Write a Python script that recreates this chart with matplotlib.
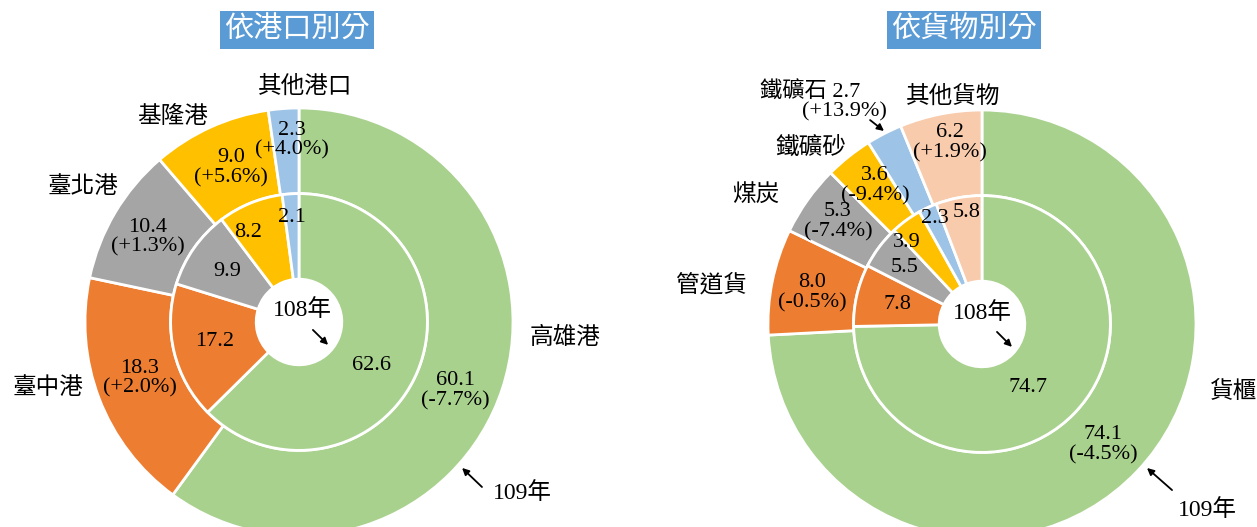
import matplotlib.pyplot as plt

plt.rcParams['font.family'] = ['Liberation Serif', 'Noto Sans CJK TC']

W, H = 1257, 527

colors_port = ['#A9D18E', '#ED7D31', '#A5A5A5', '#FFC000', '#9DC3E6']
colors_cargo = ['#A9D18E', '#ED7D31', '#A5A5A5', '#FFC000', '#9DC3E6', '#F8CBAD']

# 依港口別分
ports = ['高雄港', '臺中港', '臺北港', '基隆港', '其他港口']
port_109 = [60.1, 18.3, 10.4, 9.0, 2.3]
port_108 = [62.6, 17.2, 9.9, 8.2, 2.1]
port_chg = ['-7.7%', '+2.0%', '+1.3%', '+5.6%', '+4.0%']

# 依貨物別分
cargos = ['貨櫃', '管道貨', '煤炭', '鐵礦砂', '鐵礦石', '其他貨物']
cargo_109 = [74.1, 8.0, 5.3, 3.6, 2.7, 6.2]
cargo_108 = [74.7, 7.8, 5.5, 3.9, 2.3, 5.8]
cargo_chg = ['-4.5%', '-0.5%', '-7.4%', '-9.4%', '+13.9%', '+1.9%']

# label positions (in units of outer radius, relative to center)
port_name_pos = [(1.243, -0.075), (-1.173, -0.308), (-1.009, 0.631), (-0.589, 0.958), (0.028, 1.098)]
port_out_pos = [(0.729, -0.322), (-0.743, -0.262), (-0.706, 0.397), (-0.318, 0.720), (-0.033, 0.850)]
port_in_pos = [(0.341, -0.201), (-0.393, -0.093), (-0.336, 0.234), (-0.238, 0.416), (-0.033, 0.486)]

cargo_name_pos = [None, (-1.262, 0.182), (-1.056, 0.603), (-0.799, 0.822), None, (-0.136, 1.061)]
cargo_out_pos = [(0.565, -0.565), (-0.794, 0.145), (-0.673, 0.477), (-0.50, 0.645), None, (-0.150, 0.846)]
cargo_in_pos = [(0.215, -0.299), (-0.393, 0.089), (-0.360, 0.266), (-0.350, 0.383), (-0.220, 0.495), (-0.070, 0.519)]

fig = plt.figure(figsize=(W / 100, H / 100), dpi=100)
FS = 16     # numbers
FS_CJK = 17  # category names


def make_axes(cx, cy, r):
    ax = fig.add_axes([(cx - r) / W, (H - cy - r) / H, 2 * r / W, 2 * r / H])
    ax.set_aspect('equal')
    ax.axis('off')
    return ax


def donut(ax, outer, inner, colors):
    wp = dict(width=0.4, edgecolor='white', linewidth=2)
    ax.pie(outer, radius=1.0, colors=colors, startangle=90, counterclock=False,
           wedgeprops=wp)
    ax.pie(inner, radius=0.6, colors=colors, startangle=90, counterclock=False,
           wedgeprops=wp)
    ax.set_xlim(-1, 1)
    ax.set_ylim(-1, 1)


def arrow(ax, x0, y0, x1, y1):
    ax.annotate('', xy=(x1, y1), xytext=(x0, y0), annotation_clip=False,
                arrowprops=dict(arrowstyle='-|>', color='black', lw=1.3,
                                mutation_scale=10, shrinkA=0, shrinkB=0))


def two_line(ax, pos, val, chg):
    ax.text(*pos, f'{val:.1f}\n({chg})', ha='center', va='center',
            fontsize=FS, linespacing=1.05, clip_on=False)


# left chart
axl = make_axes(299, 322, 214)
donut(axl, port_109, port_108, colors_port)
for i in range(len(ports)):
    axl.text(*port_name_pos[i], ports[i], ha='center', va='center', fontsize=FS_CJK, clip_on=False)
    two_line(axl, port_out_pos[i], port_109[i], port_chg[i])
    axl.text(*port_in_pos[i], f'{port_108[i]:.1f}', ha='center', va='center', fontsize=FS)
axl.text(0.014, 0.056, '108年', ha='center', va='center', fontsize=FS + 1)
arrow(axl, 0.065, -0.037, 0.136, -0.107)
axl.text(0.907, -0.799, '109年', ha='left', va='center', fontsize=FS + 1, clip_on=False)
arrow(axl, 0.855, -0.771, 0.762, -0.682)

# right chart
axr = make_axes(982, 324, 214)
donut(axr, cargo_109, cargo_108, colors_cargo)
for i in range(len(cargos)):
    if cargo_name_pos[i] is not None:
        axr.text(*cargo_name_pos[i], cargos[i], ha='center', va='center', fontsize=FS_CJK, clip_on=False)
    if cargo_out_pos[i] is not None:
        two_line(axr, cargo_out_pos[i], cargo_109[i], cargo_chg[i])
    axr.text(*cargo_in_pos[i], f'{cargo_108[i]:.1f}', ha='center', va='center', fontsize=FS)
# 貨櫃 runs off the right edge in the original
axr.text(1.065, -0.318, cargos[0], ha='left', va='center', fontsize=FS_CJK, clip_on=False)
axr.text(-0.804, 1.084, f'{cargos[4]} {cargo_109[4]:.1f}', ha='center', va='center', fontsize=FS, clip_on=False)
axr.text(-0.645, 0.991, f'({cargo_chg[4]})', ha='center', va='center', fontsize=FS, clip_on=False)
arrow(axr, -0.523, 0.953, -0.458, 0.902)
axr.text(0, 0.051, '108年', ha='center', va='center', fontsize=FS + 1)
arrow(axr, 0.070, -0.037, 0.140, -0.107)
axr.text(0.916, -0.869, '109年', ha='left', va='center', fontsize=FS + 1, clip_on=False)
arrow(axr, 0.888, -0.776, 0.771, -0.673)

# title boxes
for cx, title in [(297, '依港口別分'), (964, '依貨物別分')]:
    fig.text(cx / W, 1 - 30 / H, title, ha='center', va='center', color='white', fontsize=21,
             family=['Noto Sans CJK TC'],
             bbox=dict(boxstyle='square,pad=0.15', facecolor='#5B9BD5', edgecolor='none'))

fig.savefig('out.png', dpi=100)
